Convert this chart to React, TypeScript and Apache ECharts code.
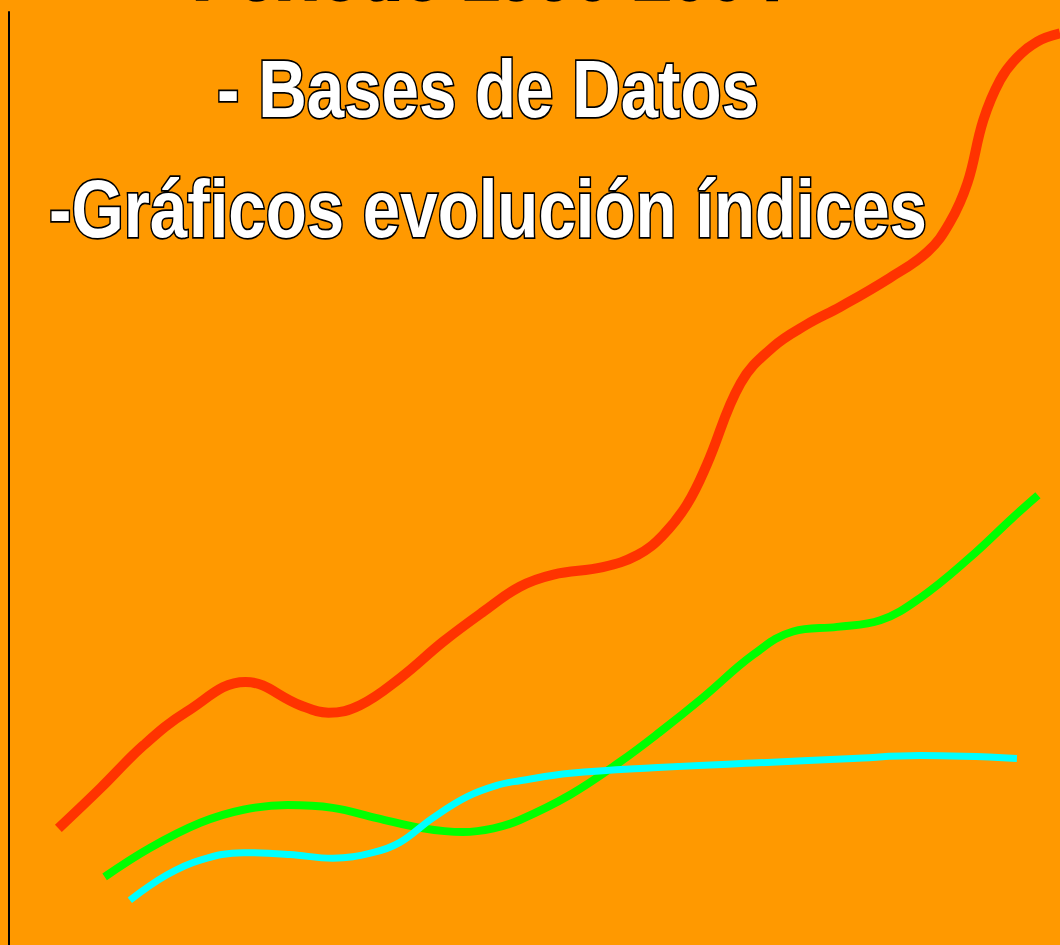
import React, { useEffect, useRef } from "react";
import * as echarts from "echarts";

// Title lines (top line is cut off by the top edge in the reference)
const titleLines = ["Período 1990-2004", "- Bases de Datos", "-Gráficos evolución índices"];

// Series values: [time position, index value] on a 0..100 scale
const redSeries: [number, number][] = [
  [4.7, 12.5], [8.7, 16.8], [12.8, 21.4], [16.9, 25.0], [22.5, 28.2], [27.7, 25.7],
  [30.4, 24.9], [33.4, 25.7], [37.2, 28.6], [41.3, 32.5], [45.1, 35.7], [48.6, 38.4],
  [51.8, 39.7], [56.5, 40.5], [59.8, 41.8], [62.2, 43.9], [64.5, 47.2], [66.4, 51.5],
  [69.6, 60.2], [72.7, 64.1], [75.9, 66.5], [79.1, 68.4], [83.8, 71.5], [87.4, 74.3],
  [89.5, 77.4], [91.2, 81.7], [92.7, 88.4], [94.3, 92.7], [95.9, 95.1], [97.8, 96.8],
  [100, 97.7],
];
const greenSeries: [number, number][] = [
  [9.1, 7.3], [13.4, 10.4], [18.2, 13.1], [22.3, 14.5], [26.5, 15.0], [30.8, 14.7],
  [35.0, 13.6], [39.4, 12.5], [43.2, 12.1], [46.1, 12.5], [48.6, 13.4], [53.4, 16.1],
  [58.1, 19.6], [61.9, 22.8], [66.0, 26.5], [70.8, 31.1], [74.6, 33.6], [78.8, 34.1],
  [82.9, 34.8], [86.7, 37.2], [91.4, 41.5], [95.5, 45.8], [97.9, 48.2],
];
const cyanSeries: [number, number][] = [
  [11.5, 4.8], [15.0, 7.5], [18.2, 9.1], [22.3, 9.9], [26.7, 9.7], [30.8, 9.3],
  [34.6, 9.9], [37.2, 11.0], [40.3, 13.6], [43.6, 15.9], [46.7, 17.2], [48.6, 17.6],
  [53.4, 18.4], [61.3, 19.0], [70.8, 19.5], [80.3, 20.0], [86.7, 20.3], [95.9, 20.0],
];

export default function App() {
  const ref = useRef<HTMLDivElement>(null);

  useEffect(() => {
    if (!ref.current) return;
    const chart = echarts.init(ref.current, undefined, { renderer: "svg" });

    const textStyle = (text: string) => ({
      text,
      fill: "#ffffff",
      stroke: "#000000",
      lineWidth: 3.5,
      fontSize: 82,
      fontWeight: "bold",
      fontFamily: '"Liberation Sans", Arial, sans-serif',
      textAlign: "center",
      textVerticalAlign: "middle",
    });

    const baselines = [-29.5, 89, 209];

    chart.setOption({
      animation: false,
      backgroundColor: "#FF9900",
      grid: { left: 9, right: 0, top: 12, bottom: 0, containLabel: false },
      xAxis: {
        type: "value",
        min: 0,
        max: 100,
        show: false,
      },
      yAxis: {
        type: "value",
        min: 0,
        max: 100,
        axisLine: { show: true, onZero: false, lineStyle: { color: "#000000", width: 2 } },
        axisTick: { show: false },
        axisLabel: { show: false },
        splitLine: { show: false },
      },
      series: [
        {
          name: "Rojo",
          type: "line",
          data: redSeries,
          smooth: 0.4,
          symbol: "none",
          lineStyle: { color: "#FF3300", width: 10, cap: "butt" },
          z: 3,
        },
        {
          name: "Verde",
          type: "line",
          data: greenSeries,
          smooth: 0.4,
          symbol: "none",
          lineStyle: { color: "#00FF00", width: 8, cap: "butt" },
          z: 2,
        },
        {
          name: "Cian",
          type: "line",
          data: cyanSeries,
          smooth: 0.4,
          symbol: "none",
          lineStyle: { color: "#00FFFF", width: 7, cap: "butt" },
          z: 4,
        },
      ],
      graphic: titleLines.map((t, i) => ({
        type: "text",
        x: 488,
        y: baselines[i],
        scaleX: 0.82,
        z: 10,
        style: textStyle(t),
      })),
    });

    return () => chart.dispose();
  }, []);

  return (
    <div
      ref={ref}
      style={{ position: "fixed", left: 0, top: 0, width: 1060, height: 945, background: "#FF9900" }}
    />
  );
}
